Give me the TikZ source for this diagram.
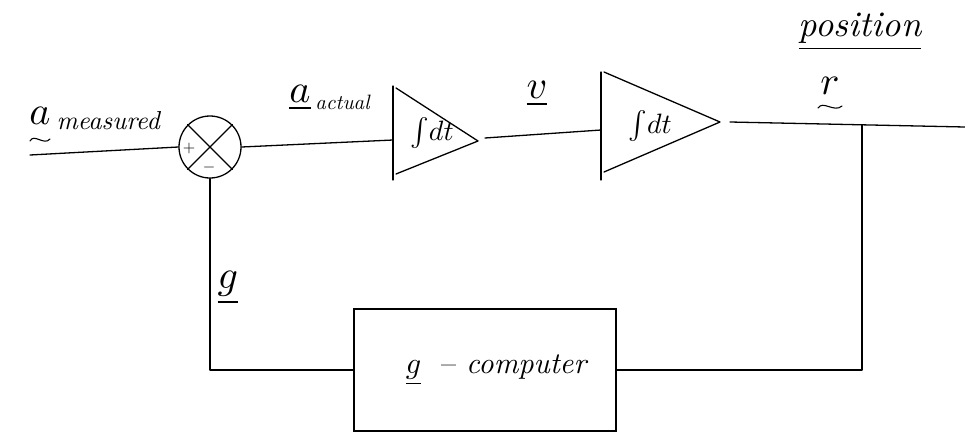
\documentclass[tikz,border=0pt]{standalone}
\usepackage{amsmath}
\begin{document}
\begin{tikzpicture}[x=1pt,y=-1pt,
  wire/.style={line width=1.3pt, line cap=round, line join=round},
  tildeline/.style={line width=1.1pt, line cap=round},
  lbl/.style={inner sep=0pt, scale=4},
  sublbl/.style={inner sep=0pt, scale=2.6, font=\itshape},
  intlbl/.style={inner sep=0pt, scale=2.8},
  pm/.style={inner sep=0pt, scale=1.6},
  sumnode/.style={draw, circle, line width=1.3pt, minimum size=62pt, inner sep=0pt},
  boxnode/.style={draw, line width=1.3pt, minimum width=262pt, minimum height=122pt, inner sep=0pt}]
\useasboundingbox (0,0) rectangle (965,439);

% summing junction
\node[sumnode] (sum) at (210,147) {};
\draw[wire] (sum.north west) -- (sum.south east);
\draw[wire] (sum.north east) -- (sum.south west);
\node[pm] (plus) at (189,148) {$+$};
\node[pm] (minus) at (209,167) {$-$};

% integrator 1
\coordinate (b1t) at (393,86);
\coordinate (b1b) at (393,180);
\coordinate (b1m) at (393,140);
\coordinate (t1t) at (396,88);
\coordinate (t1b) at (396,174);
\coordinate (t1a) at (478,141);
\draw[wire] (b1t) -- (b1b);
\draw[wire] (t1t) -- (t1a) -- (t1b);
\node[intlbl] (int1) at (432,133) {$\int\! dt$};

% integrator 2
\coordinate (b2t) at (601,72);
\coordinate (b2b) at (601,180);
\coordinate (b2m) at (601,130);
\coordinate (t2t) at (604,72);
\coordinate (t2b) at (604,172);
\coordinate (t2a) at (720,122);
\draw[wire] (b2t) -- (b2b);
\draw[wire] (t2t) -- (t2a) -- (t2b);
\node[intlbl] (int2) at (650,126) {$\int\! dt$};

% g computer box
\node[boxnode] (gc) at (485,370) {};
\node[inner sep=0pt, scale=3] (gct) at (497,370) {$\underline{g}$\ \ -- \textit{computer}};

% connectors
\coordinate (in) at (30,155);
\coordinate (out) at (965,127);
\coordinate (tap) at (862,125);
\coordinate (o1) at (485,138);
\coordinate (o2) at (730,122);
\draw[wire] (in) -- (sum.west);
\draw[wire] (sum.east) -- (b1m);
\draw[wire] (o1) -- (b2m);
\draw[wire] (o2) -- (out);
\draw[wire] (tap) |- (gc.east);
\draw[wire] (gc.west) -| (sum.south);

% labels
\node[lbl] (am) at (40,116) {$a$};
\coordinate (amt1) at (30,141);
\coordinate (amt2) at (50,139);
\draw[tildeline] (amt1) .. controls (34,133) and (44,146) .. (amt2);
\node[sublbl, anchor=west] (ams) at (56,121) {measured};
\node[lbl] (aa) at (300,98) {$\underline{a}$};
\node[sublbl, scale=0.8, anchor=west] (aas) at (315,102) {actual};
\node[lbl] (v) at (537,94) {$\underline{v}$};
\node[lbl] (r) at (830,86) {$r$};
\coordinate (rt1) at (818,108);
\coordinate (rt2) at (842,106);
\draw[tildeline] (rt1) .. controls (823,100) and (834,113) .. (rt2);
\node[inner sep=0pt, scale=3.6] (pos) at (860,32) {\textit{\underline{position}}};
\node[lbl] (g) at (228,288) {$\underline{g}$};
\end{tikzpicture}
\end{document}
